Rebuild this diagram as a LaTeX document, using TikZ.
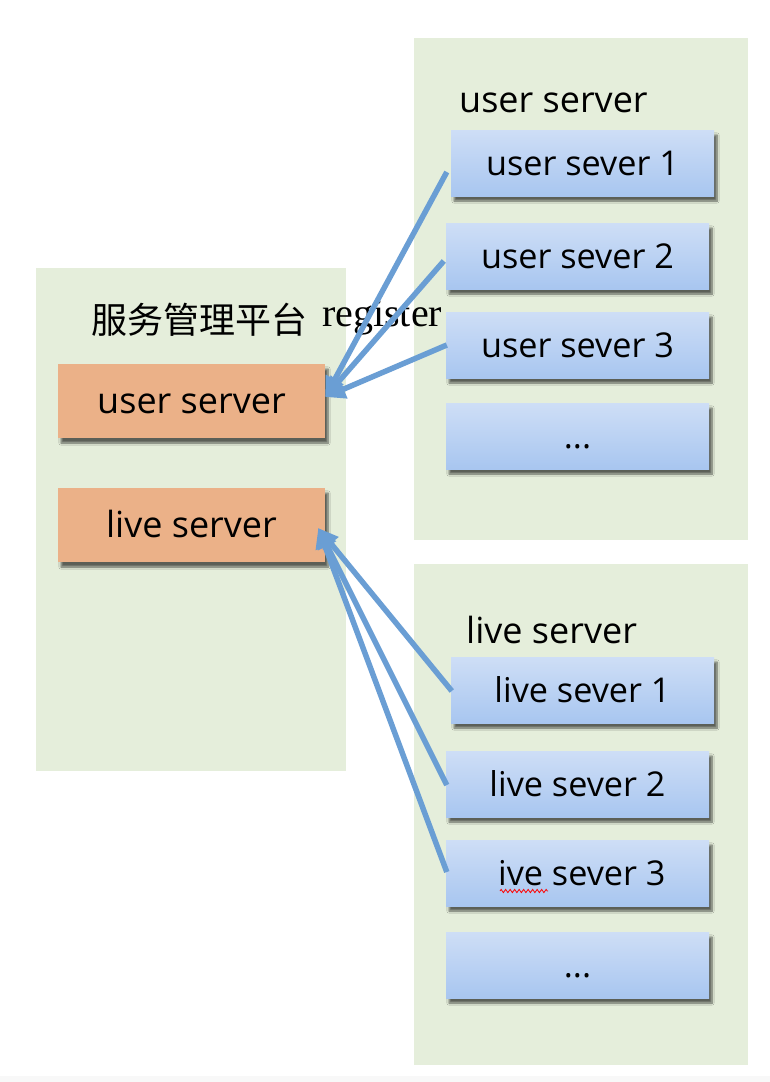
\documentclass[tikz,border=0pt]{standalone}
\usepackage{fontspec}
\setmainfont{Open Sans}
\newfontfamily\cjkfont{Noto Sans CJK SC}
\newfontfamily\regfont{Liberation Serif}
\usetikzlibrary{shadows.blur,decorations.pathmorphing,arrows.meta}
\definecolor{panelGreen}{RGB}{229, 238, 219}
\definecolor{hubOrange}{RGB}{235, 177, 136}
\definecolor{boxTop}{RGB}{206, 222, 246}
\definecolor{boxBottom}{RGB}{168, 198, 240}
\definecolor{linkBlue}{RGB}{106, 158, 212}
\definecolor{stripGray}{RGB}{248, 248, 248}

\tikzset{
    labeltext/.style={font=\fontsize{36}{42}\selectfont},
    hubbox/.style={fill=hubOrange, minimum width=267pt, minimum height=74pt, inner sep=0pt,
        text height=28pt, text depth=4pt,
        blur shadow={shadow xshift=3pt, shadow yshift=-5pt, shadow opacity=60, shadow blur steps=7}, labeltext},
    srvbox/.style={top color=boxTop, bottom color=boxBottom, minimum width=263pt, minimum height=66pt, inner sep=0pt,
        text height=28pt, text depth=4pt, font=\fontsize{34.2}{40}\selectfont,
        blur shadow={shadow xshift=3pt, shadow yshift=-5pt, shadow opacity=60, shadow blur steps=7}},
    link/.style={draw=linkBlue, line width=5.5pt, -{Triangle[length=20pt, width=19pt]}}
}

\begin{document}
\begin{tikzpicture}[x=1pt, y=-1pt]
        \useasboundingbox (0,0) rectangle (770,1082);
        \fill[stripGray] (0,1076) rectangle (770,1082);

        \fill[panelGreen] (36,268) rectangle (346,771);
        \fill[panelGreen] (414,38) rectangle (748,540);
        \fill[panelGreen] (414,564) rectangle (748,1065);

        \node[anchor=west, inner sep=0pt, font=\cjkfont\fontsize{36}{42}\selectfont] (title) at (91,320) {服务管理平台};
        \node[anchor=west, inner sep=0pt, font=\regfont\fontsize{40}{44}\selectfont] (reg) at (322,318) {register};

        \node[hubbox] (usr) at (191.5,401) {user server};
        \node[hubbox] (lsr) at (191.5,525) {live server};

        \node[anchor=west, inner sep=0pt, labeltext] (uhead) at (459,103) {user server};
        \node[srvbox] (us1) at (582.5,163) {user sever 1};
        \node[srvbox] (us2) at (577.5,256) {user sever 2};
        \node[srvbox] (us3) at (577.5,345) {user sever 3};
        \node[srvbox] (us4) at (577.5,436) {...};

        \node[anchor=west, inner sep=0pt, labeltext] (lhead) at (466,630) {live server};
        \node[srvbox] (ls1) at (582.5,690) {live sever 1};
        \node[srvbox] (ls2) at (577.5,784) {live sever 2};
        \node[srvbox] (ls3) at (577.5,873) {\phantom{l}ive sever 3};
        \node[srvbox] (ls4) at (577.5,965) {...};

        \draw[red, line width=0.8pt, decorate, decoration={zigzag, amplitude=1.6pt, segment length=4.5pt}]
            (500,891) -- (548,891);

        \coordinate (utip) at ([yshift=4pt]usr.east);
        \coordinate (ltip) at ([xshift=-7pt, yshift=-3pt]lsr.east);
        \draw[link] ([xshift=-4pt, yshift=-9pt]us1.west) -- (utip);
        \draw[link] ([xshift=-2pt, yshift=-5pt]us2.west) -- (utip);
        \draw[link] ([xshift=1pt]us3.west) -- (utip);
        \draw[link] ([xshift=1pt, yshift=-1pt]ls1.west) -- (ltip);
        \draw[link] ([xshift=1pt, yshift=-1pt]ls2.west) -- (ltip);
        \draw[link] ([xshift=1pt, yshift=1pt]ls3.west) -- (ltip);
\end{tikzpicture}
\end{document}
